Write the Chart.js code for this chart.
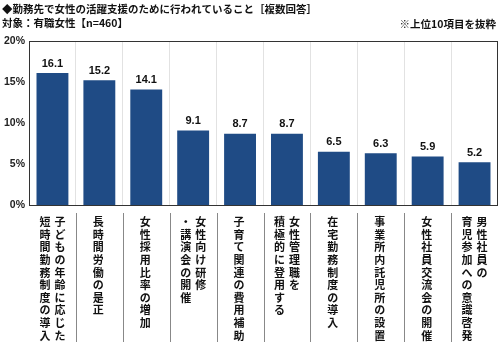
<!DOCTYPE html>
<html>
<head>
<meta charset="utf-8">
<script src="https://cdn.jsdelivr.net/npm/chart.js@4/dist/chart.umd.min.js"></script>
<style>
  body { margin: 0; background: #fff; }
  #wrap { width: 500px; height: 342px; position: relative; }
</style>
</head>
<body>
<div id="wrap"><canvas id="bar-chart"></canvas></div>
<script>
var categories = [
  ["子どもの年齢に応じた", "短時間勤務制度の導入"],
  ["長時間労働の是正"],
  ["女性採用比率の増加"],
  ["女性向け研修", "・講演会の開催"],
  ["子育て関連の費用補助"],
  ["女性管理職を", "積極的に登用する"],
  ["在宅勤務制度の導入"],
  ["事業所内託児所の設置"],
  ["女性社員交流会の開催"],
  ["男性社員の", "育児参加への意識啓発"]
];
var values = [16.1, 15.2, 14.1, 9.1, 8.7, 8.7, 6.5, 6.3, 5.9, 5.2];
var yTicks = [0, 5, 10, 15, 20];

var titleText = "◆勤務先で女性の活躍支援のために行われていること［複数回答］";
var subText = "対象：有職女性【n=460】";
var noteText = "※上位10項目を抜粋";

var jpFont = '"Noto Sans CJK JP", sans-serif';

// header, frame, value labels and the vertical category labels
var extras = {
  id: 'extras',
  afterDraw: function (chart) {
    var c = chart.ctx;
    var area = chart.chartArea;
    var x = chart.scales.x;
    c.save();

    c.fillStyle = '#111';
    c.textBaseline = 'middle';
    c.font = 'bold 10.5px ' + jpFont;
    c.textAlign = 'left';
    c.fillText(titleText, 2, 9);
    c.fillText(subText, 2, 23);
    c.textAlign = 'right';
    c.fillText(noteText, 496, 24);

    // frame round the plot
    c.strokeStyle = '#333';
    c.lineWidth = 1;
    c.strokeRect(area.left + 0.5, area.top + 0.5, area.right - area.left - 1, area.bottom - area.top);

    // values over the bars
    var meta = chart.getDatasetMeta(0);
    c.font = 'bold 11px "Liberation Sans", Arial, sans-serif';
    c.textAlign = 'center';
    c.textBaseline = 'bottom';
    meta.data.forEach(function (bar, i) {
      c.fillText(values[i].toFixed(1), bar.x, bar.y - 4);
    });

    // separators between the labels
    var step = (area.right - area.left) / categories.length;
    c.strokeStyle = '#888';
    for (var i = 1; i < categories.length; i++) {
      var sx = Math.round(area.left + step * i) + 0.5;
      c.beginPath();
      c.moveTo(sx, 213);
      c.lineTo(sx, 342);
      c.stroke();
    }

    // vertical labels, first line on the right
    c.font = 'bold 11px ' + jpFont;
    c.textBaseline = 'middle';
    c.fillStyle = '#111';
    categories.forEach(function (lines, i) {
      var cx = x.getPixelForValue(i);
      lines.forEach(function (line, j) {
        var lx = lines.length === 1 ? cx - 1 : cx + 7.5 - j * 15;
        Array.from(line).forEach(function (ch, k) {
          var ly = 222 + k * 12.6;
          if (ch === 'ー') {
            c.save();
            c.translate(lx, ly);
            c.rotate(Math.PI / 2);
            c.fillText(ch, 0, 0);
            c.restore();
          } else {
            c.fillText(ch, lx, ly);
          }
        });
      });
    });
    c.restore();
  }
};

new Chart(document.getElementById('bar-chart'), {
  type: 'bar',
  data: {
    labels: categories.map(function (l) { return l.join(''); }),
    datasets: [{
      data: values,
      backgroundColor: '#1f4b85',
      barPercentage: 0.68,
      categoryPercentage: 1
    }]
  },
  options: {
    responsive: true,
    maintainAspectRatio: false,
    animation: false,
    layout: { padding: { top: 41, bottom: 137, left: 0, right: 2 } },
    plugins: { legend: { display: false }, tooltip: { enabled: false } },
    scales: {
      x: {
        offset: true,
        ticks: { display: false },
        grid: { display: true, offset: true, color: '#e2e2e2', drawTicks: false },
        border: { display: false },
        afterFit: function (s) { s.height = 0; }
      },
      y: {
        min: 0,
        max: 20,
        afterBuildTicks: function (s) { s.ticks = yTicks.map(function (v) { return { value: v }; }); },
        ticks: {
          padding: 4,
          color: '#222',
          font: { family: '"Liberation Sans", Arial, sans-serif', size: 10.5, weight: 'bold' },
          callback: function (v) { return v + '%'; }
        },
        grid: { display: false, drawTicks: false },
        border: { display: false },
        afterFit: function (s) { s.width = 29; }
      }
    }
  },
  plugins: [extras]
});
</script>
</body>
</html>
